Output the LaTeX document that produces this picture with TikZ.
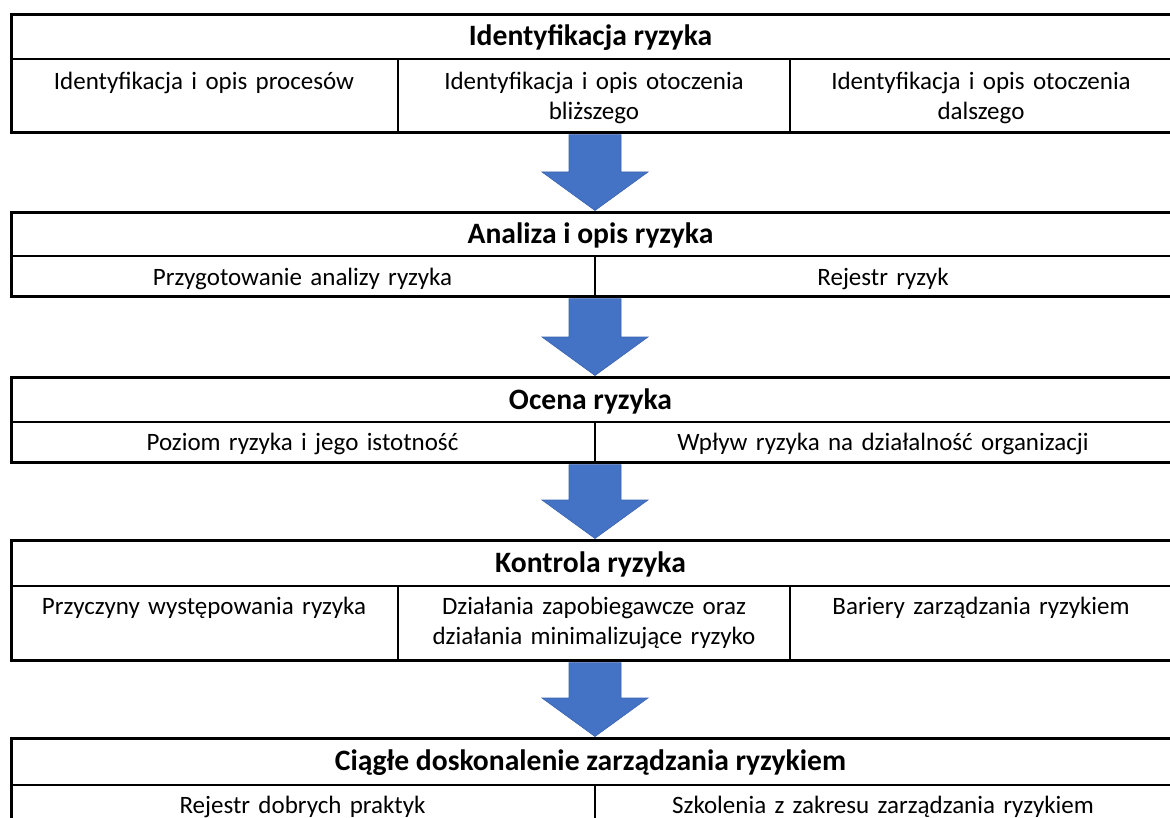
\documentclass[tikz,border=0pt]{standalone}
\usepackage{fontspec}
\setmainfont{Carlito}
\usetikzlibrary{calc}
\definecolor{arrowblue}{HTML}{4472C4}
\definecolor{arrowedge}{HTML}{3A64B0}
\begin{document}
\begin{tikzpicture}[x=1pt,y=-1pt,
  boxframe/.style={draw=black,line width=2.6pt,minimum width=1161pt,anchor=north west,inner sep=0pt},
  rule/.style={draw=black,line width=2.6pt},
  headtext/.style={font=\fontsize{29.6}{35}\selectfont\bfseries,inner sep=0pt},
  celltext/.style={font=\fontsize{25}{30}\selectfont,align=center,anchor=north,inner sep=0pt},
  blockarrow/.style={fill=arrowblue,draw=arrowedge,line width=0.6pt}]
\useasboundingbox (0,0) rectangle (1170,818);
% Box 1
\node[boxframe,minimum height=118pt] (b1) at (10,13) {};
\draw[rule] (10,59) -- (1171,59);
\draw[rule] (398,59) -- (398,0 |- b1.south);
\draw[rule] (790,59) -- (790,0 |- b1.south);
\node[headtext] (h1) at (590.5,38) {Identyfikacja ryzyka};
\node[celltext,text width=380pt] (c11) at (204,68) {\strut Identyfikacja i opis procesów};
\node[celltext,text width=380pt] (c12) at (594,68) {\strut Identyfikacja i opis otoczenia\\ bliższego};
\node[celltext,text width=370pt] (c13) at (981,68) {\strut Identyfikacja i opis otoczenia\\ dalszego};
% Box 2
\node[boxframe,minimum height=84pt] (b2) at (10,211) {};
\draw[rule] (10,256) -- (1171,256);
\draw[rule] (595,256) -- (595,0 |- b2.south);
\node[headtext] (h2) at (590.5,235.5) {Analiza i opis ryzyka};
\node[celltext,text width=575pt] (c21) at (302.5,264) {\strut Przygotowanie analizy ryzyka};
\node[celltext,text width=565pt] (c22) at (883,264) {\strut Rejestr ryzyk};
% Box 3
\node[boxframe,minimum height=85pt] (b3) at (10,376) {};
\draw[rule] (10,422) -- (1171,422);
\draw[rule] (595,422) -- (595,0 |- b3.south);
\node[headtext] (h3) at (590.5,401) {Ocena ryzyka};
\node[celltext,text width=575pt] (c31) at (302.5,429) {\strut Poziom ryzyka i jego istotność};
\node[celltext,text width=565pt] (c32) at (883,429) {\strut Wpływ ryzyka na działalność organizacji};
% Box 4
\node[boxframe,minimum height=120pt] (b4) at (10,539) {};
\draw[rule] (10,586) -- (1171,586);
\draw[rule] (398,586) -- (398,0 |- b4.south);
\draw[rule] (790,586) -- (790,0 |- b4.south);
\node[headtext] (h4) at (590.5,564.5) {Kontrola ryzyka};
\node[celltext,text width=380pt] (c41) at (204,593) {\strut Przyczyny występowania ryzyka};
\node[celltext,text width=385pt] (c42) at (594,593) {\strut Działania zapobiegawcze oraz\\ działania minimalizujące ryzyko};
\node[celltext,text width=370pt] (c43) at (981,593) {\strut Bariery zarządzania ryzykiem};
% Box 5
\node[boxframe,minimum height=87pt] (b5) at (10,737) {};
\draw[rule] (10,785) -- (1171,785);
\draw[rule] (595,785) -- (595,0 |- b5.south);
\node[headtext] (h5) at (590.5,763) {Ciągłe doskonalenie zarządzania ryzykiem};
\node[celltext,text width=575pt] (c51) at (302.5,792) {\strut Rejestr dobrych praktyk};
\node[celltext,text width=565pt] (c52) at (883,792) {\strut Szkolenia z zakresu zarządzania ryzykiem};
% Arrows
\foreach \a/\b in {b1/b2,b2/b3,b3/b4,b4/b5}{
  \path[blockarrow] let \p1=(\a.south), \p2=(\b.north) in
    (569pt,\y1-1pt) -- (621pt,\y1-1pt) -- (621pt,\y2+39pt) -- (648pt,\y2+39pt)
    -- (595pt,\y2+0.5pt) -- (542pt,\y2+39pt) -- (569pt,\y2+39pt) -- cycle;
}
\end{tikzpicture}
\end{document}
